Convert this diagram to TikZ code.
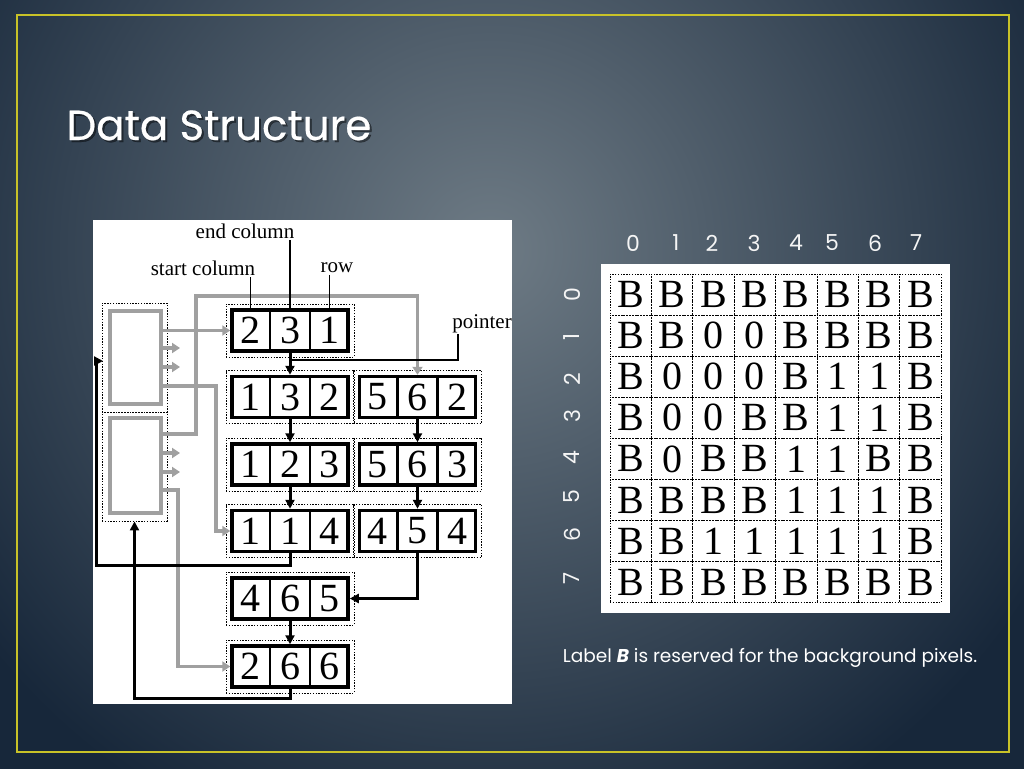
\documentclass[tikz,border=0pt]{standalone}
\usepackage{fontspec}
\setmainfont{Liberation Serif}
\newfontfamily\pop{Poppins}
\newfontfamily\popb[FakeBold=0.5]{Poppins}
\usetikzlibrary{arrows.meta,calc}
\definecolor{bgin}{HTML}{6E7B85}
\definecolor{bgout}{HTML}{17273A}
\definecolor{framecol}{HTML}{C8C228}
\definecolor{lgray}{HTML}{A0A0A0}
\pgfdeclareradialshading{bgshade}{\pgfpoint{0bp}{0bp}}{color(0bp)=(bgin); color(25bp)=(bgout); color(50bp)=(bgout)}
\newcommand\recnode[6]{%
  \node[dotbox] (#1d) at (#2,#3) {};
  \node[recbox] (#1) at (#2,#3) {};
  \draw[line width=2.5pt] ($(#1.north west)!1/3!(#1.north east)$) -- ($(#1.south west)!1/3!(#1.south east)$);
  \draw[line width=2.5pt] ($(#1.north west)!2/3!(#1.north east)$) -- ($(#1.south west)!2/3!(#1.south east)$);
  \node[digit] (#1a) at ($(#1.west)!1/6!(#1.east)$) {#4};
  \node[digit] (#1b) at ($(#1.west)!3/6!(#1.east)$) {#5};
  \node[digit] (#1c) at ($(#1.west)!5/6!(#1.east)$) {#6};
}
\begin{document}
\begin{tikzpicture}[x=1pt,y=-1pt,
  recbox/.style={draw, line width=3.5pt, minimum width=116pt, minimum height=41pt, inner sep=0pt},
  dotbox/.style={draw, dash pattern=on 1.4pt off 1.4pt, line width=0.9pt, minimum width=128pt, minimum height=53pt},
  digit/.style={font=\fontsize{40}{40}\selectfont, inner sep=0pt},
  barr/.style={line width=3pt, -{Triangle[length=9pt,width=9pt]}},
  garr/.style={draw=lgray, line width=3.5pt, -{Triangle[length=8pt,width=10pt]}},
  thinl/.style={line width=1.2pt},
  lab/.style={font=\fontsize{21}{21}\selectfont, inner sep=1.5pt},
  cell/.style={draw, dash pattern=on 1.4pt off 1.4pt, line width=0.8pt, minimum width=41.4pt, minimum height=41.1pt, inner sep=0pt, font=\fontsize{40}{40}\selectfont},
  axlab/.style={font=\pop\fontsize{22}{22}\selectfont, text=white!92!gray, inner sep=0pt}
]
\useasboundingbox (0,0) rectangle (1024,768);
\fill[bgout] (-6,-6) rectangle (1030,774);
\begin{scope}
  \clip (-6,-6) rectangle (1030,774);
  \shade[shading=bgshade] (490,250) circle (640pt);
\end{scope}
\draw[framecol, line width=2.5pt] (17,15) rectangle (1009,752);

% title
\node[font=\popb\fontsize{42}{42}\selectfont, text=black, opacity=0.45, anchor=base west] at (65,142) {Data Structure};
\node[font=\popb\fontsize{42}{42}\selectfont, text=white, anchor=base west] (title) at (63,140) {Data Structure};

% left diagram panel
\fill[white] (93,220) rectangle (512,704);

% gray boxes
\node[draw, dash pattern=on 1.4pt off 1.4pt, line width=0.9pt, minimum width=65pt, minimum height=109pt] (gd1) at (134.5,357.5) {};
\node[draw, dash pattern=on 1.4pt off 1.4pt, line width=0.9pt, minimum width=65pt, minimum height=109pt] (gd2) at (134.5,466.5) {};
\node[draw=lgray, line width=4.5pt, minimum width=51pt, minimum height=93pt] (gb1) at (135.5,357.5) {};
\node[draw=lgray, line width=4.5pt, minimum width=51pt, minimum height=95pt] (gb2) at (135.5,465.5) {};

% records
\recnode{r231}{290}{330.5}{2}{3}{1}
\recnode{r132}{290}{397}{1}{3}{2}
\recnode{r562}{417.5}{397}{5}{6}{2}
\recnode{r123}{290}{464.5}{1}{2}{3}
\recnode{r563}{417.5}{464.5}{5}{6}{3}
\recnode{r114}{290}{531}{1}{1}{4}
\recnode{r454}{417.5}{531}{4}{5}{4}
\recnode{r465}{290}{598.5}{4}{6}{5}
\recnode{r266}{290}{666.5}{2}{6}{6}

% gray connectors
\coordinate (g2s) at (163,386);
\coordinate (g3s) at (163,434);
\coordinate (g4s) at (163,490);
\draw[garr] (gb1.east |- r231.west) -- (r231.west);
\draw[garr] (g2s) -| (216,531) -- (r114.west);
\draw[garr] (g3s) -| (196,296) -| (r562.north);
\draw[garr] (g4s) -| (178,666.5) -- (r266.west);
\foreach \yy [count=\k] in {348,367,453,472}{
  \coordinate (sa\k) at (163,\yy);
  \coordinate (sb\k) at (180,\yy);
  \draw[garr] (sa\k) -- (sb\k);
}

% labels
\node[lab] (lstart) at (203,268) {start column};
\node[lab] (lend) at (245,231) {end column};
\node[lab] (lrow) at (337,268) {row};
\node[lab] (lptr) at (482,324) {pointer};
\draw[thinl] (r231a |- lstart.south) -- (r231a |- r231.north);
\draw[thinl] (r231b |- lend.south) -- (r231b |- r231.north);
\draw[thinl] (r231c |- lrow.south) -- (r231c |- r231.north);
\coordinate (pt1) at (458,334);
\coordinate (pt2) at (291,360);
\draw[thinl] (pt1) |- (pt2);

% black connectors
\draw[barr] (r231.south) -- (r132.north);
\draw[barr] (r132.south) -- (r123.north);
\draw[barr] (r123.south) -- (r114.north);
\draw[barr] (r562.south) -- (r563.north);
\draw[barr] (r563.south) -- (r454.north);
\draw[barr] (r465.south) -- (r266.north);
\draw[barr] (r454.south) |- (r465.east);
\coordinate (b2t) at (103,361);
\draw[barr] (r114.south) |- (96,565) |- (b2t);
\draw[barr] (r266.south) |- (134.5,698) -- (gd2.south);

% grid
\fill[white] (601,264) rectangle (950,613);
\foreach \r [count=\j from 0] in {{B,B,B,B,B,B,B,B},{B,B,0,0,B,B,B,B},{B,0,0,0,B,1,1,B},{B,0,0,B,B,1,1,B},{B,0,B,B,1,1,B,B},{B,B,B,B,1,1,1,B},{B,B,1,1,1,1,1,B},{B,B,B,B,B,B,B,B}}{
  \foreach \c [count=\i from 0] in \r {
    \node[cell] (c\i\j) at ({610+41.4*(\i+0.5)},{274+41.1*(\j+0.5)}) {\c};
  }
}
\foreach \xx/\t in {633/0,676/1,712/2,754/3,796/4,832/5,875/6,916/7}
  \node[axlab] (col\t) at (\xx,243) {\t};
\foreach \yy/\t in {295/0,337/1,379/2,416/3,458/4,497/5,535/6,578/7}
  \node[axlab, rotate=90] (row\t) at (572,\yy) {\t};

\node[font=\pop\fontsize{18.5}{18.5}\selectfont, text=white, inner sep=0pt] (cap) at (770,658) {Label \textbf{\textit{B}} is reserved for the background pixels.};
\end{tikzpicture}
\end{document}
